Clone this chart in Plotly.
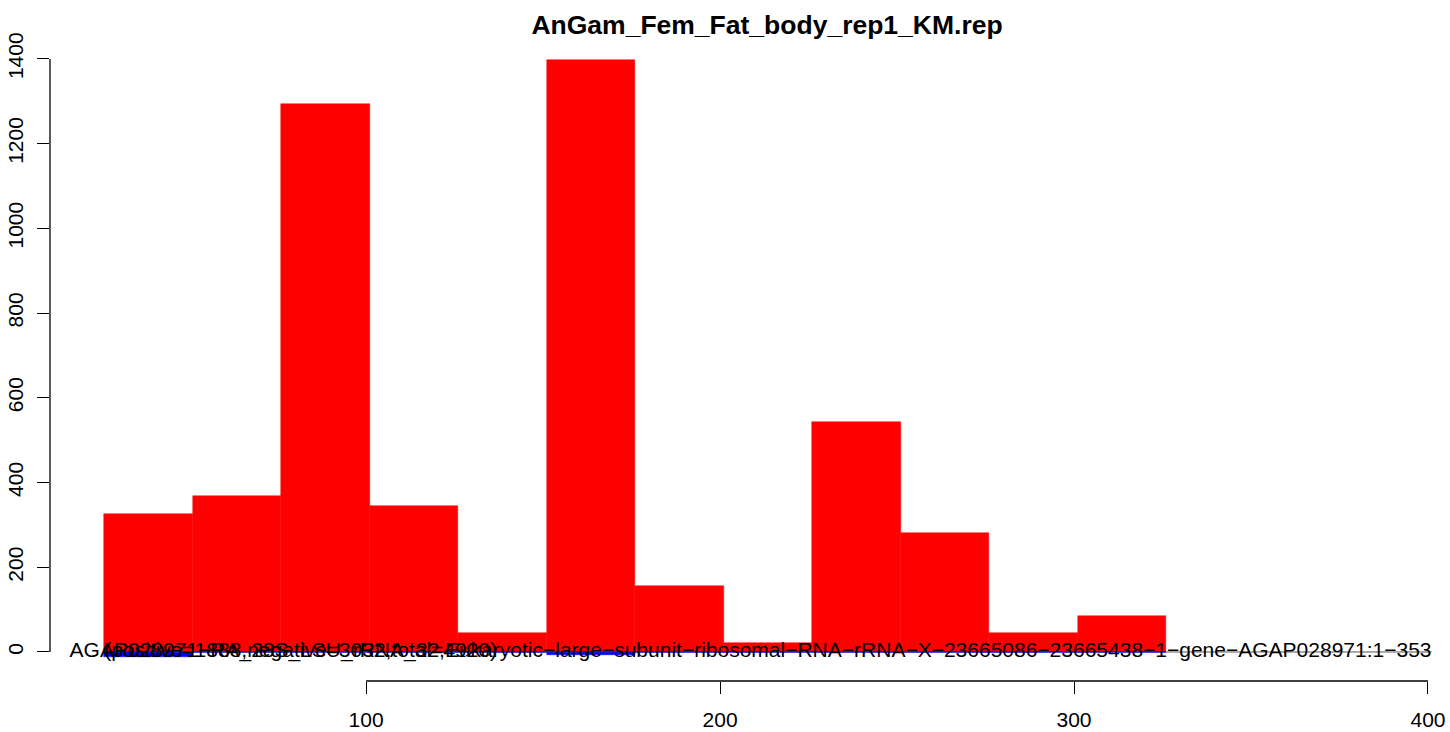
import plotly.graph_objects as go

# ---- data ----
bin_start = [26, 51, 76, 101, 126, 151, 176, 201, 226, 251, 276, 301]
bin_width = 25
pos_counts = [326, 368, 1294, 345, 45, 1397, 156, 21, 543, 281, 45, 85]
neg_counts = [-12, 0, 0, 0, 0, -7, 0, 0, 0, 0, 0, 0]
x_ticks = [100, 200, 300, 400]
y_ticks = [0, 200, 400, 600, 800, 1000, 1200, 1400]
xlim = [26, 401]
title_text = "AnGam_Fem_Fat_body_rep1_KM.rep"
label_stats = "(positive=1888,negative=3032,total=4920)"
label_gene = ("AGAP028971\u2212RA_28S_LSU_rRNA_32,Eukaryotic\u2212large\u2212subunit\u2212ribosomal\u2212RNA\u2212rRNA"
              "\u2212X\u221223665086\u221223665438\u22121\u2212gene\u2212AGAP028971:1\u2212353")

centers = [s + bin_width / 2 for s in bin_start]
FONT = "Liberation Sans, Arial, Helvetica, sans-serif"

fig = go.Figure()
fig.add_trace(go.Bar(x=centers, y=pos_counts, width=bin_width,
                     marker=dict(color="#FF0000", line=dict(color="#FF0000", width=0.5)),
                     showlegend=False, hoverinfo="skip"))
fig.add_trace(go.Bar(x=centers, y=neg_counts, width=bin_width,
                     marker=dict(color="#0000FF", line=dict(color="#0000FF", width=0.5)),
                     showlegend=False, hoverinfo="skip"))
# baseline segment over xlim
fig.add_trace(go.Scatter(x=xlim, y=[0, 0], mode="lines",
                         line=dict(color="#555555", width=1), showlegend=False, hoverinfo="skip"))
# zero-height border of the blue bars
fig.add_trace(go.Scatter(x=[bin_start[0], bin_start[-1] + bin_width], y=[0, 0], mode="lines",
                         line=dict(color="#0000FF", width=1), showlegend=False, hoverinfo="skip"))
# labels (clipped to the plot region like R)
fig.add_trace(go.Scatter(x=[xlim[1]], y=[0], mode="text", text=[label_gene],
                         textposition="middle left", cliponaxis=True,
                         textfont=dict(family=FONT, size=21, color="black"),
                         showlegend=False, hoverinfo="skip"))
fig.add_trace(go.Scatter(x=[xlim[0]], y=[0], mode="text", text=[label_stats],
                         textposition="middle right", cliponaxis=True,
                         textfont=dict(family=FONT, size=21, color="black"),
                         showlegend=False, hoverinfo="skip"))

# R-style axis lines spanning only the tick range
fig.add_shape(type="line", xref="x", yref="paper", x0=x_ticks[0], x1=x_ticks[-1], y0=0, y1=0,
              line=dict(color="black", width=1.3))
fig.add_shape(type="line", xref="paper", yref="y", x0=0, x1=0, y0=y_ticks[0], y1=y_ticks[-1],
              line=dict(color="black", width=1.3))

fig.update_layout(
    width=1450, height=732,
    margin=dict(l=50, r=10, t=36, b=51, autoexpand=False),
    paper_bgcolor="white", plot_bgcolor="white",
    barmode="overlay", bargap=0,
    font=dict(family=FONT, size=21, color="black"),
    title=dict(text="<b>" + title_text + "</b>", xref="container", x=0.529, xanchor="center",
               yref="container", y=0.966, yanchor="middle", automargin=False,
               font=dict(family=FONT, size=26.5, color="black")),
    xaxis=dict(range=[10.7, 403.4], tickmode="array", tickvals=x_ticks,
               ticktext=[str(v) for v in x_ticks], automargin=False,
               showgrid=False, zeroline=False, showline=False,
               ticks="outside", ticklen=12, tickwidth=1.3, tickcolor="black",
               ticklabelstandoff=8, tickfont=dict(size=21)),
    yaxis=dict(range=[-68.5, 1454], tickmode="array", tickvals=y_ticks,
               ticktext=[str(v) for v in y_ticks], automargin=False,
               showgrid=False, zeroline=False, showline=False,
               ticks="outside", ticklen=12, tickwidth=1.3, tickcolor="black",
               tickangle=-90, ticklabelstandoff=6, tickfont=dict(size=21)),
)

fig.write_html("out.html", config={"displayModeBar": False},
               post_script="document.body.style.margin='0px';document.body.style.overflow='hidden';")
